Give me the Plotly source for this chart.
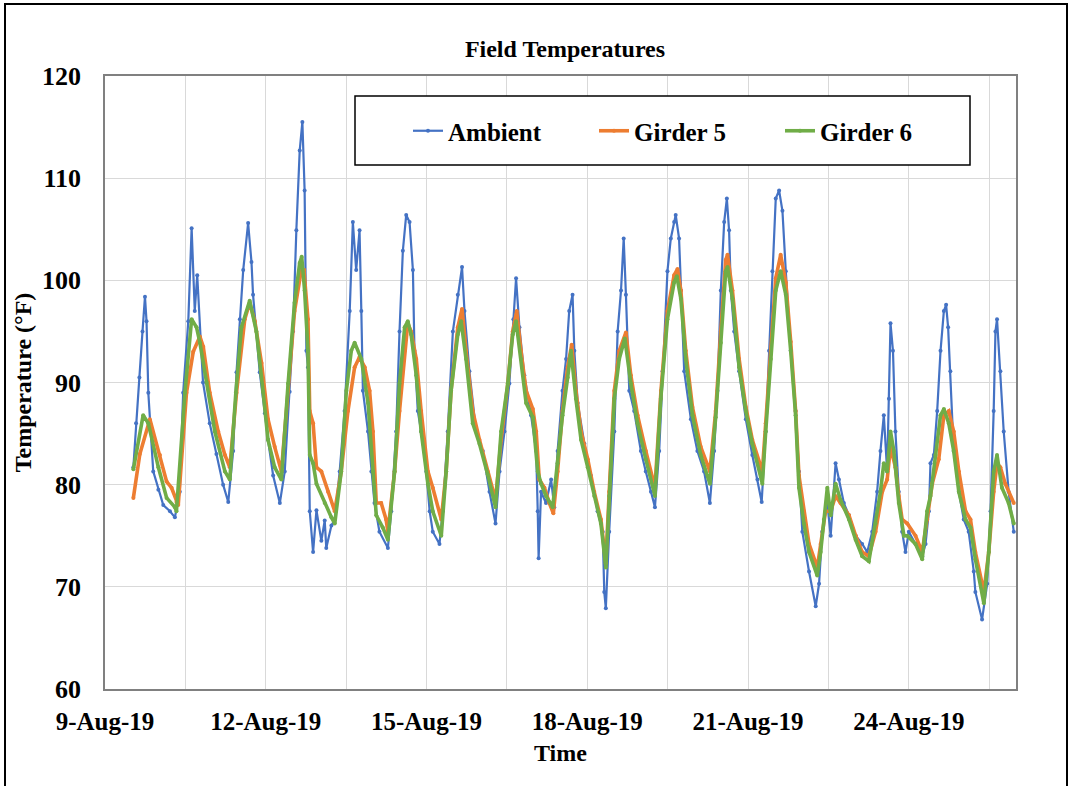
import pandas as pd
import plotly.graph_objects as go

START = pd.Timestamp("2019-08-09 00:00")

# (hours after 9-Aug-19 00:00, temperature °F)
ambient = [
    (12.7, 81.7), (13.9, 86.0), (15.4, 90.5), (16.8, 95.0), (17.9, 98.4), (18.6, 96.0), (19.4, 89.0), (21.6, 81.3),
    (23.9, 79.5), (26.1, 78.0), (29.1, 77.4), (31.3, 76.8), (33.5, 79.3), (35.0, 89.0), (37.3, 96.0), (38.8, 105.1),
    (40.2, 97.0), (41.3, 100.5), (43.9, 90.0), (46.9, 86.0), (49.9, 83.0), (52.9, 80.0), (55.2, 78.3), (57.4, 83.3),
    (58.9, 91.0), (60.4, 96.2), (61.9, 101.0), (64.1, 105.6), (65.6, 101.8), (66.3, 98.6), (69.3, 91.0), (71.6, 87.0),
    (73.0, 84.4), (75.3, 80.9), (78.3, 78.2), (80.5, 81.3), (82.7, 89.1), (84.2, 95.0), (85.7, 104.9), (87.2, 112.7),
    (88.4, 115.5), (89.4, 108.8), (90.2, 93.1), (90.9, 91.5), (91.7, 77.4), (93.2, 73.4), (94.7, 77.5), (96.9, 74.5),
    (98.4, 76.5), (99.1, 73.8), (101.4, 76.0), (102.9, 76.6), (105.1, 81.3), (107.3, 87.2), (109.6, 97.0), (111.0, 105.7),
    (112.5, 101.0), (114.0, 104.9), (114.8, 97.0), (115.5, 89.2), (117.8, 85.2), (119.3, 81.3), (120.7, 78.2), (122.9, 75.4),
    (126.7, 73.8), (128.2, 77.4), (130.4, 85.2), (131.9, 95.0), (133.4, 102.9), (134.9, 106.4), (136.4, 105.7), (137.9, 101.0),
    (138.6, 93.1), (140.1, 87.2), (141.6, 85.2), (143.9, 81.3), (145.4, 77.4), (146.8, 75.4), (149.8, 74.2), (151.3, 77.4),
    (153.5, 85.2), (155.8, 95.0), (158.0, 98.6), (159.9, 101.3), (161.0, 97.0), (163.2, 91.1), (166.2, 85.2), (169.2, 83.3),
    (172.2, 79.3), (174.9, 76.2), (176.7, 81.3), (178.9, 85.2), (181.1, 89.9), (182.9, 96.2), (184.1, 100.2), (185.6, 95.4),
    (187.8, 90.7), (190.8, 86.8), (193.1, 83.3), (193.8, 77.4), (194.2, 72.8), (195.3, 79.3), (197.5, 78.2), (199.8, 80.5),
    (201.2, 77.8), (202.7, 83.3), (204.9, 89.2), (206.5, 92.3), (207.9, 97.0), (209.4, 98.6), (210.2, 93.1), (211.7, 88.0),
    (214.7, 84.0), (217.6, 80.9), (220.6, 77.4), (222.9, 75.4), (223.6, 69.5), (224.3, 67.9), (225.8, 75.4), (228.1, 85.2),
    (229.6, 95.0), (231.1, 99.0), (232.3, 104.1), (233.3, 98.6), (234.8, 89.2), (237.0, 87.2), (240.0, 83.3), (242.2, 81.3),
    (244.5, 79.3), (246.3, 77.8), (248.2, 83.3), (249.7, 91.1), (251.9, 100.9), (253.4, 104.1), (254.9, 105.7), (255.6, 106.4),
    (257.1, 104.1), (257.9, 99.0), (259.4, 91.1), (262.4, 86.4), (265.3, 83.3), (268.3, 81.3), (270.9, 78.2), (272.8, 83.3),
    (274.3, 89.2), (275.8, 99.0), (277.3, 105.7), (278.5, 108.0), (279.5, 104.9), (280.3, 99.0), (281.8, 95.0), (284.0, 91.1),
    (287.0, 86.4), (289.9, 82.9), (292.2, 80.5), (294.1, 78.3), (295.9, 85.2), (297.4, 93.1), (298.9, 100.9), (300.4, 108.0),
    (301.9, 108.8), (303.4, 106.8), (304.9, 100.9), (307.1, 93.1), (309.3, 87.2), (310.8, 81.3), (312.3, 75.4), (315.3, 71.5),
    (318.3, 68.1), (319.8, 70.3), (321.2, 75.4), (323.5, 78.2), (325.0, 75.0), (327.2, 82.1), (328.7, 80.5), (330.9, 78.2),
    (333.2, 77.0), (336.2, 75.0), (339.1, 74.2), (341.4, 73.4), (343.6, 75.4), (345.8, 79.3), (347.3, 83.3), (348.8, 86.8),
    (350.3, 81.3), (351.1, 88.4), (351.8, 95.8), (352.9, 93.1), (354.0, 85.2), (355.5, 79.3), (357.0, 75.4), (358.5, 73.4),
    (360.0, 75.4), (363.0, 74.2), (366.0, 73.0), (367.5, 74.2), (369.0, 77.4), (369.7, 82.1), (371.2, 82.9), (372.7, 87.2),
    (374.2, 93.1), (375.7, 97.0), (376.7, 97.6), (377.6, 95.4), (378.6, 91.1), (380.1, 83.3), (382.4, 79.3), (384.6, 76.6),
    (386.8, 75.4), (389.1, 71.5), (389.8, 69.5), (392.8, 66.8), (395.1, 70.3), (396.6, 77.4), (398.0, 87.2), (398.8, 95.0),
    (399.5, 96.2), (401.0, 91.1), (402.5, 85.2), (404.7, 79.3), (407.0, 75.4),
]

girder5 = [
    (12.7, 78.7), (15.6, 83.0), (20.1, 86.4), (24.6, 82.9), (27.6, 80.3), (29.8, 79.7), (32.0, 78.3), (32.8, 78.0),
    (36.5, 89.0), (39.5, 93.0), (42.5, 94.5), (44.0, 93.5), (46.9, 89.0), (50.7, 85.2), (53.7, 82.9), (55.9, 81.7),
    (58.9, 89.0), (62.6, 96.2), (64.8, 97.8), (67.1, 96.0), (70.1, 91.9), (73.0, 86.4), (76.0, 83.7), (79.0, 81.3),
    (82.0, 89.2), (84.9, 97.0), (87.9, 101.0), (89.1, 101.0), (90.9, 96.2), (91.7, 87.2), (93.2, 86.0), (94.7, 81.7),
    (96.9, 81.3), (99.9, 79.3), (102.9, 77.4), (105.8, 81.3), (108.8, 87.2), (111.8, 91.5), (114.0, 92.5), (116.3, 91.5),
    (118.5, 89.2), (120.0, 85.2), (121.5, 78.2), (123.7, 78.2), (125.9, 76.6), (126.7, 75.4), (129.7, 81.3), (131.9, 87.2),
    (134.2, 93.1), (135.6, 95.8), (137.1, 95.0), (139.4, 92.3), (141.6, 87.2), (144.6, 81.3), (146.8, 79.7), (150.6, 76.6),
    (152.8, 81.3), (155.0, 89.2), (158.0, 95.4), (159.9, 97.2), (161.7, 93.1), (164.7, 87.2), (167.7, 84.4), (171.4, 81.3),
    (174.9, 78.5), (177.4, 84.4), (180.4, 89.9), (182.6, 95.0), (184.4, 97.0), (186.3, 93.1), (188.6, 89.2), (191.6, 87.4),
    (193.1, 85.2), (194.5, 80.5), (196.8, 79.7), (199.0, 78.2), (200.8, 77.2), (202.7, 81.3), (204.9, 87.2), (207.2, 91.5),
    (209.0, 93.7), (210.9, 89.2), (213.2, 85.2), (216.2, 82.5), (219.1, 79.3), (222.1, 76.6), (224.3, 72.3), (225.8, 79.3),
    (228.1, 89.2), (230.3, 93.1), (233.3, 94.9), (235.5, 90.7), (238.5, 86.8), (242.2, 83.3), (246.3, 79.7), (249.0, 89.2),
    (251.9, 97.0), (254.9, 100.5), (256.4, 101.1), (257.9, 99.0), (260.1, 93.1), (263.1, 87.6), (266.8, 83.7), (270.9, 81.3),
    (273.5, 87.2), (275.8, 95.0), (278.0, 102.0), (278.8, 102.5), (281.0, 99.0), (284.0, 92.3), (287.0, 87.6), (289.9, 84.4),
    (294.4, 81.3), (295.9, 86.0), (298.2, 93.1), (300.4, 100.2), (302.6, 102.5), (304.9, 99.8), (307.1, 94.0), (309.3, 87.2),
    (310.8, 80.9), (313.0, 77.4), (315.3, 74.2), (319.0, 71.9), (320.5, 74.2), (322.7, 77.4), (325.0, 77.4), (327.2, 78.9),
    (329.4, 78.2), (333.2, 77.0), (336.2, 75.0), (339.1, 73.4), (342.1, 73.0), (345.1, 75.4), (348.1, 79.3), (350.3, 80.5),
    (351.8, 83.7), (352.6, 82.9), (354.0, 81.7), (355.5, 78.9), (357.0, 76.6), (359.3, 76.2), (363.0, 75.0), (366.0, 73.4),
    (368.2, 76.6), (370.5, 80.1), (373.4, 82.5), (375.7, 86.8), (377.9, 87.2), (380.1, 85.2), (382.4, 81.3), (385.4, 77.4),
    (387.6, 76.6), (389.8, 73.4), (393.6, 69.5), (395.8, 73.4), (398.0, 79.3), (399.5, 82.1), (401.0, 81.7), (403.2, 80.1),
    (407.0, 78.2),
]

girder6 = [
    (12.7, 81.5), (17.1, 86.8), (19.4, 86.0), (23.9, 81.7), (27.6, 78.7), (31.3, 77.8), (32.0, 77.4), (35.8, 89.0),
    (38.8, 96.2), (41.0, 95.4), (42.5, 93.9), (45.5, 90.0), (49.2, 85.2), (53.7, 81.3), (55.9, 80.5), (58.6, 89.0),
    (61.1, 95.4), (64.8, 98.0), (67.8, 95.0), (70.8, 89.1), (73.0, 84.4), (76.0, 81.7), (79.0, 80.5), (82.0, 89.9),
    (84.9, 97.8), (87.2, 101.7), (88.1, 102.3), (89.4, 99.0), (90.9, 93.1), (91.7, 82.9), (93.2, 82.1), (94.7, 80.1),
    (98.4, 78.2), (101.4, 76.8), (102.9, 76.2), (105.8, 81.3), (108.1, 89.2), (110.3, 93.1), (111.8, 93.9), (114.8, 92.3),
    (117.8, 88.0), (120.0, 81.3), (121.5, 77.0), (124.4, 75.8), (126.7, 74.6), (129.7, 81.3), (131.9, 89.9), (134.2, 95.4),
    (135.6, 96.0), (137.1, 94.7), (139.4, 90.7), (141.6, 85.2), (144.6, 80.1), (146.8, 77.4), (150.6, 75.0), (152.8, 81.3),
    (155.0, 89.2), (158.0, 94.7), (159.5, 96.0), (161.7, 92.3), (164.7, 86.0), (167.7, 84.0), (171.4, 81.0), (174.9, 77.8),
    (177.4, 85.2), (180.4, 89.9), (182.6, 94.7), (184.1, 96.0), (186.3, 92.3), (188.6, 88.0), (191.6, 86.6), (193.8, 81.3),
    (195.3, 80.1), (197.5, 78.9), (200.5, 77.8), (202.7, 82.1), (204.9, 86.8), (207.2, 90.5), (208.7, 93.1), (210.9, 88.4),
    (213.2, 84.4), (216.2, 81.7), (219.1, 78.9), (222.1, 76.2), (224.3, 71.9), (225.8, 78.9), (228.1, 88.4), (230.3, 92.3),
    (232.8, 94.3), (235.5, 89.9), (238.5, 86.0), (242.2, 82.5), (246.3, 78.9), (248.9, 88.4), (251.9, 96.2), (254.9, 99.8),
    (256.1, 100.4), (257.9, 98.2), (260.1, 92.3), (263.1, 86.8), (266.8, 82.9), (270.9, 80.1), (273.5, 86.6), (275.8, 93.9),
    (278.0, 100.9), (278.8, 101.3), (281.0, 98.2), (284.0, 91.5), (287.0, 87.2), (289.9, 84.0), (294.4, 80.1), (295.9, 85.2),
    (298.2, 92.3), (300.4, 99.0), (302.6, 100.9), (304.9, 98.6), (307.1, 93.1), (309.3, 86.8), (310.8, 79.7), (313.0, 76.2),
    (315.3, 73.4), (319.0, 71.1), (320.5, 73.4), (322.0, 76.6), (323.5, 79.7), (325.0, 77.0), (327.2, 80.1), (329.4, 78.5),
    (333.2, 76.6), (336.2, 74.6), (339.1, 73.0), (342.1, 72.5), (345.1, 76.2), (347.3, 79.3), (348.8, 82.1), (350.3, 81.3),
    (351.8, 85.2), (353.3, 83.3), (355.5, 78.2), (357.8, 75.0), (359.3, 75.0), (363.0, 74.2), (366.0, 72.7), (368.2, 77.4),
    (369.7, 78.9), (371.9, 82.9), (374.2, 86.8), (375.7, 87.4), (377.9, 86.0), (380.1, 83.3), (382.4, 79.3), (385.4, 76.6),
    (387.6, 75.8), (389.8, 72.7), (393.6, 68.4), (395.8, 73.4), (398.0, 81.3), (399.5, 82.9), (401.7, 79.7), (404.7, 78.2),
    (407.0, 76.2),
]

series_names = ["Ambient", "Girder 5", "Girder 6"]
series_colors = ["#4472C4", "#ED7D31", "#70AD47"]
series_widths = [2.2, 3.6, 3.6]
y_ticks = [60, 70, 80, 90, 100, 110, 120]

FONT = "Liberation Serif, Times New Roman, serif"

fig = go.Figure()
for name, data, color, w in zip(series_names, [ambient, girder5, girder6], series_colors, series_widths):
    hrs = [p[0] for p in data]
    vals = [p[1] for p in data]
    t = START + pd.to_timedelta(hrs, unit="h")
    fig.add_trace(go.Scatter(
        x=t, y=vals, name=f"<b>{name}</b>", mode="lines+markers",
        line=dict(color=color, width=w),
        marker=dict(color=color, size=4),
    ))

# plot area in pixels: left 105, right 1016, top 76, bottom 689
PL, PR, PT, PB = 105, 1016, 76, 689
PW, PH = PR - PL, PB - PT


def px(x):
    return (x - PL) / PW


def py(y):
    return (PB - y) / PH


fig.update_layout(
    width=1073, height=786,
    margin=dict(l=PL, r=1073 - PR, t=PT, b=786 - PB, autoexpand=False),
    paper_bgcolor="white", plot_bgcolor="white",
    font=dict(family=FONT, color="black"),
    title=dict(text="<b>Field Temperatures</b>", x=px(565), xref="paper", xanchor="center",
               y=1 - 49 / 786, yanchor="middle", font=dict(size=24, family=FONT, color="black")),
    showlegend=True,
    legend=dict(orientation="h", x=px(408), xanchor="left", y=py(131), yanchor="middle",
                bgcolor="rgba(0,0,0,0)", borderwidth=0,
                font=dict(size=25, family=FONT, color="black"),
                entrywidth=141, entrywidthmode="pixels", itemwidth=30),
    shapes=[
        dict(type="rect", xref="paper", yref="paper", x0=px(355), x1=px(970), y0=py(165), y1=py(96),
             line=dict(color="black", width=1.5), fillcolor="white", layer="above"),
        dict(type="rect", xref="paper", yref="paper", x0=px(5), x1=px(1067), y0=py(800), y1=py(4),
             line=dict(color="black", width=2), fillcolor="rgba(0,0,0,0)", layer="above"),
    ],
)

fig.update_xaxes(
    range=[START, START + pd.Timedelta(days=17)],
    tickmode="linear", tick0=START, dtick=3 * 86400000,
    tickformat="%-d-%b-%y", tickprefix="<b>", ticksuffix="</b>",
    tickfont=dict(size=25, family=FONT, color="black"),
    showgrid=True, gridcolor="#d9d9d9", gridwidth=1,
    minor=dict(dtick=1.5 * 86400000, tick0=START, showgrid=True, gridcolor="#d9d9d9", gridwidth=1),
    showline=True, linecolor="#808080", linewidth=1.5, mirror=True,
    ticks="", zeroline=False, automargin=False, ticklabelstandoff=9,
    title=dict(text="<b>Time</b>", font=dict(size=24, family=FONT, color="black"), standoff=10),
)
fig.update_yaxes(
    range=[60, 120], tickvals=y_ticks, ticktext=[f"<b>{v}</b>" for v in y_ticks],
    tickfont=dict(size=26, family=FONT, color="black"),
    showgrid=True, gridcolor="#d9d9d9", gridwidth=1,
    showline=True, linecolor="#808080", linewidth=1.5, mirror=True,
    ticks="", zeroline=False, ticklabelstandoff=17, automargin=False,
    title=dict(text="<b>Temperature (°F)</b>", font=dict(size=24, family=FONT, color="black"), standoff=4),
)

fig.write_html("out.html", config={"displayModeBar": False},
               post_script="document.body.style.margin='0';document.body.style.overflow='hidden';")
